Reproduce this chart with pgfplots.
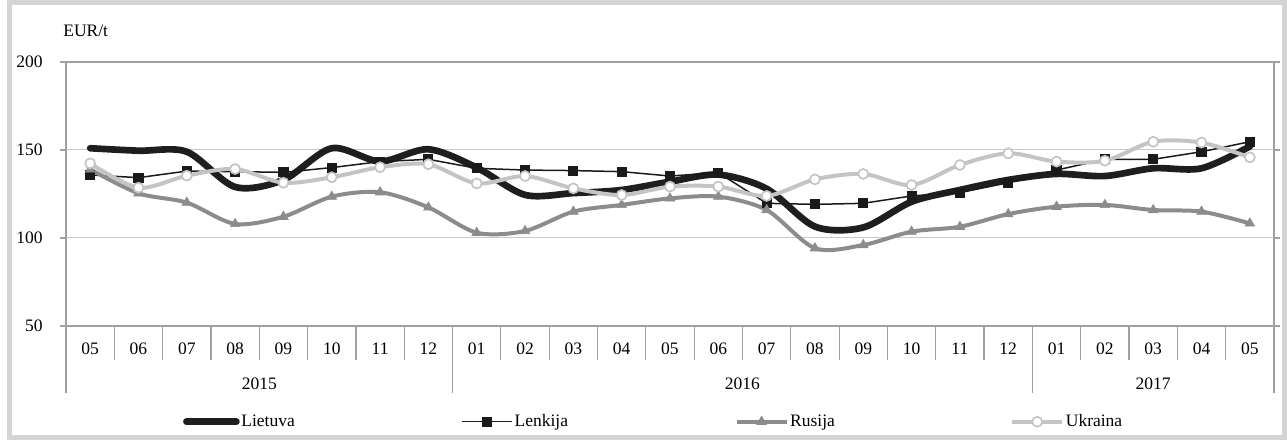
\documentclass[border=0pt]{standalone}
\usepackage{fontspec}
\setmainfont{Liberation Serif}
\usepackage{pgfplots}
\pgfplotsset{compat=1.18}

\definecolor{cLt}{HTML}{1E1E1E}
\definecolor{cLk}{HTML}{1A1A1A}
\definecolor{cRu}{HTML}{8C8C8C}
\definecolor{cUk}{HTML}{C4C4C4}
\definecolor{cAx}{HTML}{A0A0A0}
\definecolor{cGr}{HTML}{C8C8C8}
\definecolor{cFr}{HTML}{D4D4D4}

\begin{document}
\fontsize{10.5}{12.6}\selectfont
\begin{tikzpicture}
\useasboundingbox (0,0) rectangle (772.2pt,264.6pt);
\draw[cFr, line width=3pt] (5.4pt,1.8pt) rectangle (770.4pt,262.8pt);
\begin{axis}[
  at={(39.6pt,69pt)}, anchor=south west,
  scale only axis, width=724.8pt, height=158.4pt,
  xmin=-0.5, xmax=24.5, ymin=50, ymax=200,
  clip=false,
  ytick={50,100,150,200},
  ymajorgrids, grid style={cGr, line width=0.6pt},
  axis line style={cAx, line width=0.7pt},
  tick align=outside, major tick length=3.6pt,
  ytick style={cAx, line width=0.7pt},
  xtick style={draw=none},
  xtick={0,...,24},
  xticklabels={05,06,07,08,09,10,11,12,01,02,03,04,05,06,07,08,09,10,11,12,01,02,03,04,05},
  xticklabel style={anchor=base, yshift=-13.5pt, inner sep=0pt},
  yticklabel style={anchor=east, inner sep=0pt, xshift=-10.2pt},
  /pgf/number format/assume math mode=true,
  legend columns=4,
  legend style={draw=none, fill=none, at={(0.0925,-0.3625)}, anchor=west,
    nodes={inner sep=1pt},
    /tikz/every even column/.append style={text width=131pt}},
  legend cell align=left,
  legend image code/.code={\draw[#1, mark repeat=2, mark phase=2] plot coordinates {(0pt,0pt) (15pt,0pt) (30pt,0pt)};},
]
% Lietuva
\addplot[cLt, line width=4pt, smooth, tension=0.5, line cap=round] coordinates {
(0,151) (1,149.6) (2,149) (3,129) (4,133) (5,151) (6,143.5) (7,150.4)
(8,140) (9,124.5) (10,125.5) (11,127.3) (12,132) (13,136) (14,128) (15,106.5)
(16,106) (17,120.6) (18,127.3) (19,133) (20,136.4) (21,135.2) (22,139.6) (23,139.6) (24,152)};
\addlegendentry{Lietuva}
% Lenkija
\addplot[cLk, line width=0.9pt, mark=square*, mark size=2.6pt, mark options={solid, fill=cLk}] coordinates {
(0,135.8) (1,134.3) (2,138) (3,137.7) (4,137.3) (5,140) (6,143.4) (7,144.7)
(8,139.6) (9,138.6) (10,138.3) (11,137.7) (12,135.2) (13,137.1) (14,119.7) (15,119.1)
(16,119.7) (17,123.9) (18,125.8) (19,131.4) (20,138.6) (21,144.7) (22,144.7) (23,149) (24,154.7)};
\addlegendentry{Lenkija}
% Rusija
\addplot[cRu, line width=2.4pt, smooth, tension=0.5, mark=triangle*, mark size=3.3pt, mark options={solid, fill=cRu, line width=0.4pt}] coordinates {
(0,139) (1,125.4) (2,120.1) (3,108) (4,112.1) (5,123.5) (6,126) (7,117.4)
(8,103) (9,104) (10,115) (11,118.8) (12,122.5) (13,123.5) (14,115.9) (15,94.2)
(16,96) (17,103.6) (18,106.4) (19,113.6) (20,117.8) (21,118.8) (22,115.9) (23,115) (24,108.3)};
\addlegendentry{Rusija}
% Ukraina
\addplot[cUk, line width=2.4pt, smooth, tension=0.5, mark=*, mark size=3pt, mark options={solid, fill=white, draw=cUk, line width=1pt}] coordinates {
(0,142.4) (1,128.6) (2,135.4) (3,139.2) (4,131.4) (5,134.5) (6,140.2) (7,141.9)
(8,131) (9,135.2) (10,128.2) (11,124.4) (12,129.2) (13,129.2) (14,123.9) (15,133.3)
(16,136.4) (17,130.1) (18,141.5) (19,148.1) (20,143.4) (21,143.9) (22,154.7) (23,154.2) (24,145.8)};
\addlegendentry{Ukraina}
% month separators
\pgfplotsinvokeforeach{-0.5,0.5,1.5,2.5,3.5,4.5,5.5,6.5,7.5,8.5,9.5,10.5,11.5,12.5,13.5,14.5,15.5,16.5,17.5,18.5,19.5,20.5,21.5,22.5,23.5,24.5}{
  \draw[cAx, line width=0.7pt] (axis cs:#1,50) -- ([yshift=-20.4pt]axis cs:#1,50);
}
% year separators
\pgfplotsinvokeforeach{-0.5,7.5,19.5,24.5}{
  \draw[cAx, line width=0.7pt] (axis cs:#1,50) -- ([yshift=-40.2pt]axis cs:#1,50);
}
\node[anchor=center] at ([yshift=-34.8pt]axis cs:3.5,50) {2015};
\node[anchor=center] at ([yshift=-34.8pt]axis cs:13.5,50) {2016};
\node[anchor=center] at ([yshift=-34.8pt]axis cs:22,50) {2017};
\end{axis}
\node[anchor=west, inner sep=0pt] at (37.8pt,246pt) {EUR/t};
\end{tikzpicture}
\end{document}
